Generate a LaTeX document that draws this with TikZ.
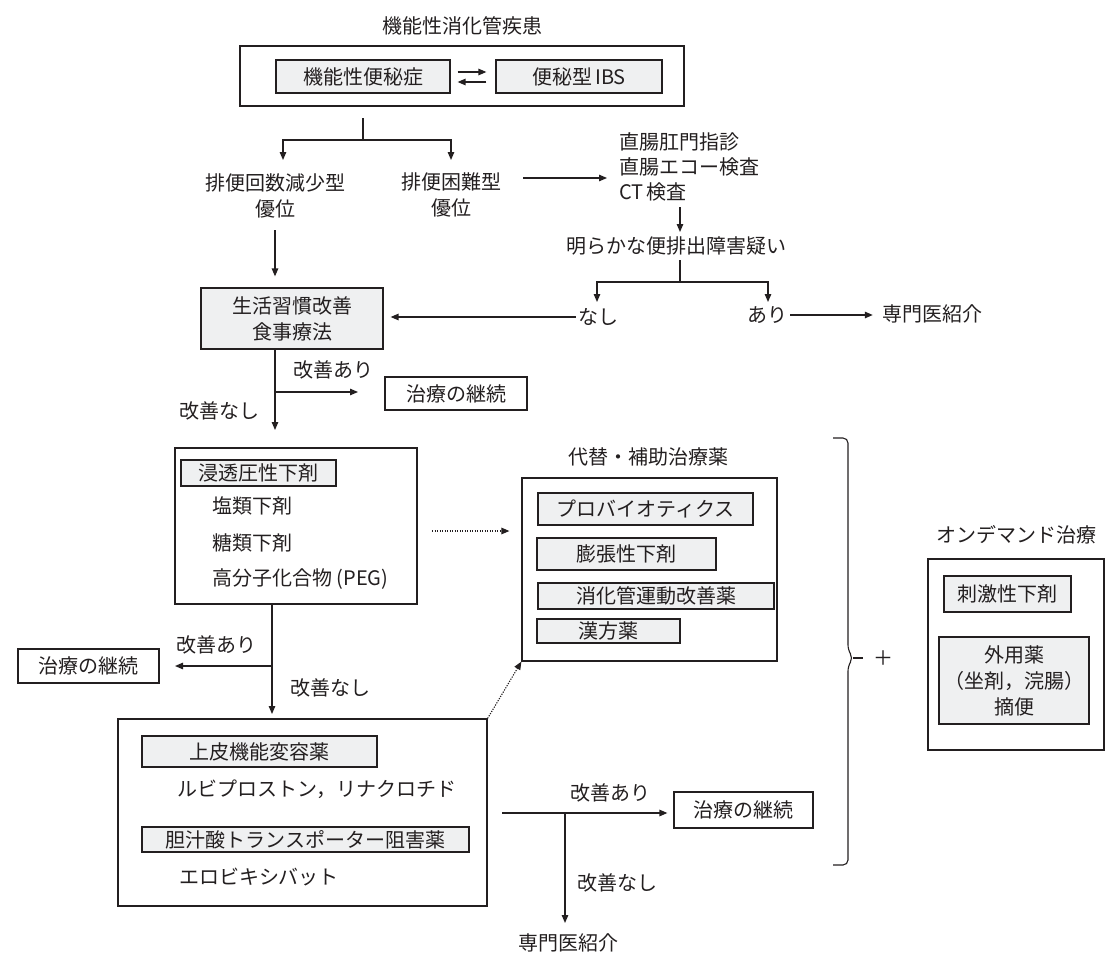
\documentclass[tikz,border=0pt]{standalone}
\usepackage{fontspec}
\setmainfont{Noto Sans CJK JP}
\usetikzlibrary{arrows.meta,calc}
\definecolor{ink}{RGB}{35,31,32}
\definecolor{boxgray}{RGB}{239,240,241}
\begin{document}
\begin{tikzpicture}[x=1pt,y=-1pt,
  base/.style={font=\fontsize{20}{26}\selectfont, text=ink, inner sep=0pt, align=center},
  txt/.style={base},
  ltxt/.style={base, anchor=west, align=left},
  box/.style={base, draw=ink, line width=1.2pt},
  gbox/.style={box, fill=boxgray},
  ln/.style={draw=ink, line width=1.3pt},
  arr/.style={ln, -{Triangle[length=8pt,width=6.5pt]}},
  dotarr/.style={draw=ink, line width=1.1pt, dash pattern=on 1.2pt off 1.3pt, -{Triangle[length=8pt,width=6.5pt]}}
]
\useasboundingbox (0,0) rectangle (1120,966);

% ---- top
\node[txt] (title) at (462,26) {機能性消化管疾患};
\node[box, minimum width=444, minimum height=60] (outer) at (462,76) {};
\node[gbox, minimum width=174, minimum height=33] (fc) at (363,76.5) {機能性便秘症};
\node[gbox, minimum width=166, minimum height=33] (ibs) at (579,76.5) {便秘型\hspace{3pt}IBS};
\draw[arr] ([shift={(7,-4.5)}]fc.east) -- ([shift={(-9,-4.5)}]ibs.west);
\draw[arr] ([shift={(-9,5.5)}]ibs.west) -- ([shift={(7,5.5)}]fc.east);

\coordinate (s0) at (363,118);
\coordinate (br1) at (363,140);
\coordinate (a1) at (283,160);
\coordinate (a2) at (451,160);
\draw[ln] (s0) -- (br1);
\draw[arr] (br1) -| (a1);
\draw[arr] (br1) -| (a2);

\node[txt] (t1) at (275,196) {排便回数減少型\\優位};
\node[txt] (t2) at (451,195) {排便困難型\\優位};
\node[ltxt, font=\fontsize{20}{25}\selectfont] (t3) at (619,167) {直腸肛門指診\\直腸エコー検査\\CT\hspace{3pt}検査};
\coordinate (e1) at (523,178);
\draw[arr, shorten >=12pt] (e1) -- (e1 -| t3.west);

\node[txt] (t4) at (676,246) {明らかな便排出障害疑い};
\coordinate (e2) at (680,207);
\coordinate (e3) at (680,232);
\draw[arr] (e2) -- (e3);

\node[txt] (nashi) at (598,317) {なし};
\node[txt] (ari) at (767,315) {あり};
\coordinate (e4) at (680,260);
\coordinate (br2) at (680,282);
\coordinate (a3) at (597,302);
\coordinate (a4) at (768,302);
\draw[ln] (e4) -- (br2);
\draw[arr] (br2) -| (a3);
\draw[arr] (br2) -| (a4);

\node[gbox, minimum width=182, minimum height=61] (life) at (292,318.5) {生活習慣改善\\食事療法};
\draw[arr, shorten <=2pt, shorten >=7pt] (nashi.west) -- (nashi.west -| life.east);
\node[txt] (spec1) at (932,314) {専門医紹介};
\draw[arr, shorten <=3pt, shorten >=9pt] (ari.east) -- (ari.east -| spec1.west);

\coordinate (e5) at (275,230);
\draw[arr, shorten >=11pt] (e5) -- (e5 |- life.north);

% ---- step 2
\coordinate (b3s) at (275,349);
\coordinate (br3) at (275,392);
\coordinate (a5) at (275,430);
\coordinate (a6) at (358,392);
\draw[arr] (b3s) -- (a5);
\draw[arr] (br3) -- (a6);
\node[txt] (imp1) at (333,370) {改善あり};
\node[txt] (nimp1) at (219,411) {改善なし};
\node[box, minimum width=142, minimum height=33] (cont1) at (456,393.5) {治療の継続};

\node[box, minimum width=242, minimum height=156] (g1) at (296,526) {};
\node[gbox, minimum width=155, minimum height=26] (osm) at (258.5,473) {浸透圧性下剤};
\node[ltxt] (salt) at (212,506) {塩類下剤};
\node[ltxt] (sugar) at (212,543) {糖類下剤};
\node[ltxt] (peg) at (212,579) {高分子化合物 (PEG)};

\node[txt] (alttitle) at (648,457) {代替・補助治療薬};
\node[box, minimum width=255, minimum height=183] (g2) at (649.5,569.5) {};
\node[gbox, minimum width=215, minimum height=32] (pro) at (645.5,509) {プロバイオティクス};
\node[gbox, minimum width=179, minimum height=32] (bulk) at (626.5,554) {膨張性下剤};
\node[gbox, minimum width=236, minimum height=26] (prok) at (656,596) {消化管運動改善薬};
\node[gbox, minimum width=143, minimum height=24] (kampo) at (608.5,631) {漢方薬};

\coordinate (d1) at (432,531);
\draw[dotarr, shorten >=12pt] (d1) -- (d1 -| g2.west);

% ---- step 3
\coordinate (g1s) at (272,604);
\coordinate (br4) at (272,666);
\coordinate (a7) at (272,714);
\coordinate (a8) at (175,666);
\draw[arr] (g1s) -- (a7);
\draw[arr] (br4) -- (a8);
\node[txt] (imp2) at (216,645) {改善あり};
\node[txt] (nimp2) at (330,688) {改善なし};
\node[box, minimum width=141, minimum height=34] (cont2) at (88.5,666) {治療の継続};

\node[box, minimum width=369, minimum height=187] (g3) at (302.5,812.5) {};
\node[gbox, minimum width=235, minimum height=31] (epi) at (259.5,751.5) {上皮機能変容薬};
\node[ltxt] (lubi) at (177,789) {ルビプロストン，リナクロチド};
\node[gbox, minimum width=327, minimum height=25] (ibat) at (305.5,839.5) {胆汁酸トランスポーター阻害薬};
\node[ltxt] (elo) at (179,877) {エロビキシバット};

\draw[dotarr] (g3.north east) -- (g2.south west);

\coordinate (e6) at (502,813);
\coordinate (br5) at (565,813);
\coordinate (a9) at (565,923);
\node[box, minimum width=139, minimum height=36] (cont3) at (743.5,810) {治療の継続};
\draw[arr, shorten >=6pt] (e6) -- (e6 -| cont3.west);
\draw[arr] (br5) -- (a9);
\node[txt] (imp3) at (610,793) {改善あり};
\node[txt] (nimp3) at (617,883) {改善なし};
\node[txt] (spec2) at (568,943) {専門医紹介};

% ---- brace and on-demand
\draw[draw=ink, line width=1.1pt, rounded corners=5pt] (833,438) -- (848,438) -- (848,650) -- (853,658) -- (848,666) -- (848,865) -- (833,865);
\draw[draw=ink, line width=1.1pt] (853,658) -- (863,658);
\node[txt] (plus) at (883,658) {＋};

\node[txt] (odtitle) at (1016,535) {オンデマンド治療};
\node[box, minimum width=176, minimum height=191] (g4) at (1016,654.5) {};
\node[gbox, minimum width=127, minimum height=36] (stim) at (1007.5,594) {刺激性下剤};
\node[gbox, minimum width=150, minimum height=87, font=\fontsize{20}{26}\selectfont] (ext) at (1014,680.5) {外用薬\\（坐剤，浣腸）\\摘便};
\end{tikzpicture}
\end{document}
